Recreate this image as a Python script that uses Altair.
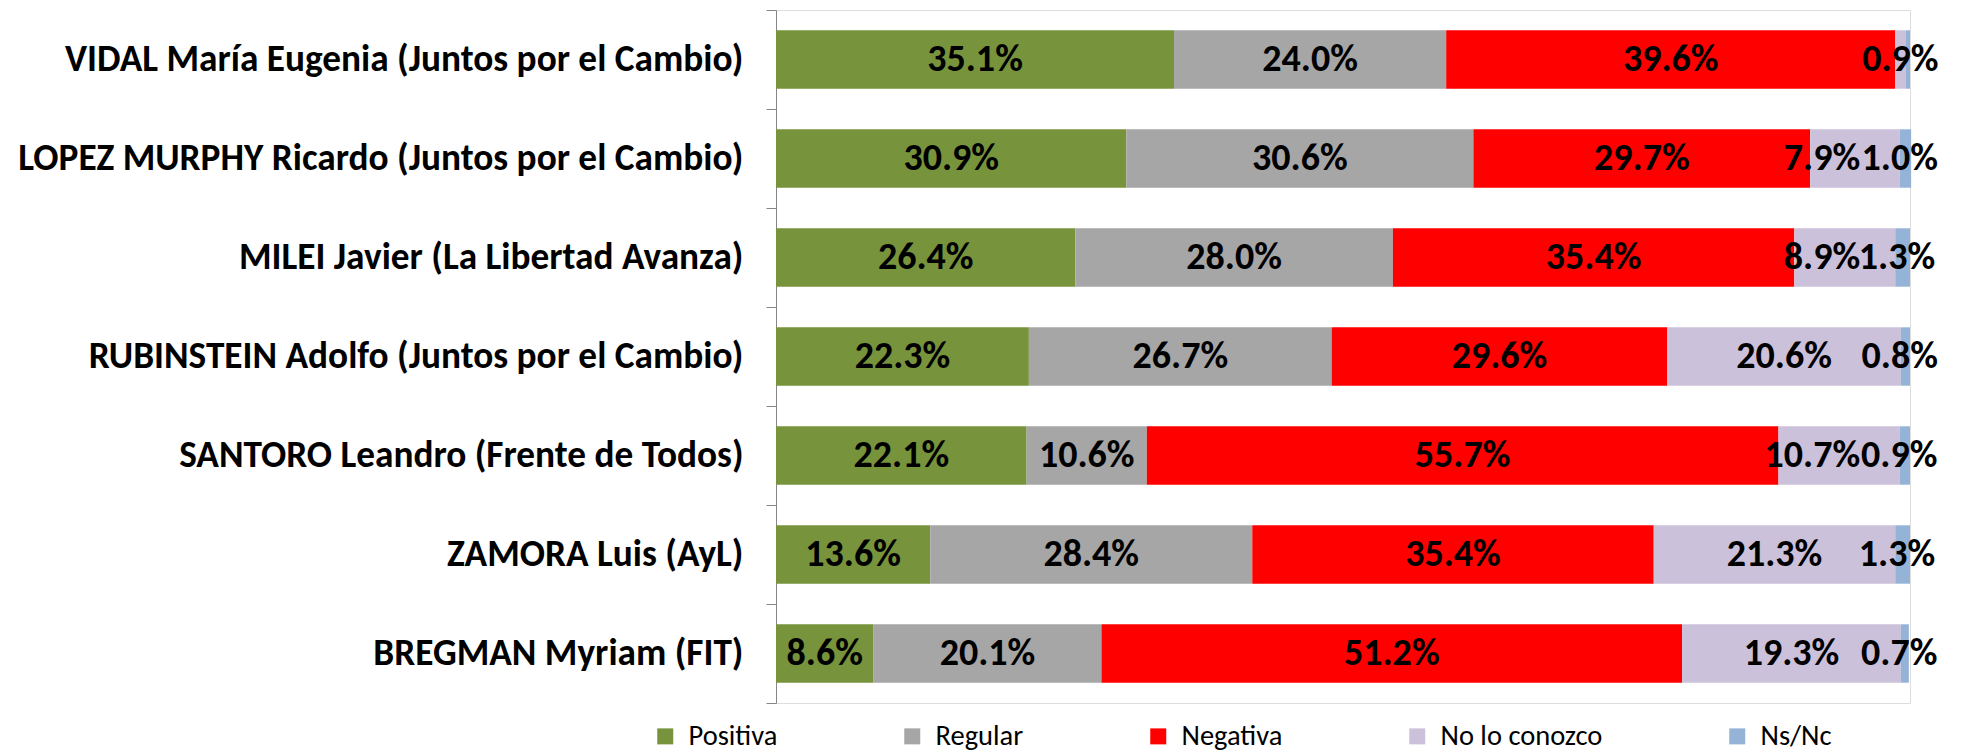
import altair as alt
import pandas as pd

candidates = [
    "VIDAL María Eugenia (Juntos por el Cambio)",
    "LOPEZ MURPHY Ricardo (Juntos por el Cambio)",
    "MILEI Javier (La Libertad Avanza)",
    "RUBINSTEIN Adolfo (Juntos por el Cambio)",
    "SANTORO Leandro (Frente de Todos)",
    "ZAMORA Luis (AyL)",
    "BREGMAN Myriam (FIT)",
]
series = ["Positiva", "Regular", "Negativa", "No lo conozco", "Ns/Nc"]
colors = ["#77933C", "#A6A6A6", "#FF0000", "#CCC1DA", "#95B3D7"]

positiva = [35.1, 30.9, 26.4, 22.3, 22.1, 13.6, 8.6]
regular = [24.0, 30.6, 28.0, 26.7, 10.6, 28.4, 20.1]
negativa = [39.6, 29.7, 35.4, 29.6, 55.7, 35.4, 51.2]
no_conozco = [0.9, 7.9, 8.9, 20.6, 10.7, 21.3, 19.3]
nsnc = [0.4, 1.0, 1.3, 0.8, 0.9, 1.3, 0.7]
nsnc_label_shown = [False, True, True, True, True, True, True]

FONT = "Carlito, 'Liberation Sans Narrow', 'DejaVu Sans Condensed', sans-serif"
LABEL_FS = 38
W, H = 1134, 693
PX_PER = W / 100.0

values = [positiva, regular, negativa, no_conozco, nsnc]
rows = []
for i, cand in enumerate(candidates):
    start = 0.0
    for j, s in enumerate(series):
        v = values[j][i]
        rows.append({"cand": cand, "serie": s, "order": j, "start": start,
                     "end": start + v, "mid": start + v / 2, "val": v,
                     "label": f"{v:.1f}%"})
        start += v
df = pd.DataFrame(rows)

# label placement: Ns/Nc label sits near bar end; No lo conozco label pushed left if it would collide
est_char = 0.5 * LABEL_FS / PX_PER
limit = 95.6
center_rows, right_rows = [], []
for i, cand in enumerate(candidates):
    sub = df[df.cand == cand]
    for _, r in sub.iterrows():
        if r.serie == "Ns/Nc":
            if nsnc_label_shown[i]:
                d = r.to_dict(); d["pos"] = r.mid - 0.5
                center_rows.append(d)
        elif r.serie == "No lo conozco" and nsnc_label_shown[i] and \
                r.mid + len(r.label) * est_char / 2 > limit:
            d = r.to_dict(); d["pos"] = limit
            right_rows.append(d)
        else:
            d = r.to_dict(); d["pos"] = r.mid
            center_rows.append(d)
lab_c = pd.DataFrame(center_rows)
lab_r = pd.DataFrame(right_rows)

yenc = alt.Y("cand:N", sort=candidates,
             scale=alt.Scale(paddingInner=0, paddingOuter=0),
             axis=alt.Axis(title=None, labelFont=FONT, labelFontSize=37.3,
                           labelFontWeight="bold", labelColor="#000000",
                           labelPadding=23, labelLimit=1000,
                           domainColor="#868686", tickColor="#868686",
                           tickSize=10, tickBand="extent"))

bars = alt.Chart(df).mark_bar(height={"band": 0.59}).encode(
    x=alt.X("start:Q", scale=alt.Scale(domain=[0, 100], nice=False, zero=True), axis=None),
    x2="end:Q",
    y=yenc,
    color=alt.Color("serie:N", sort=series,
                    scale=alt.Scale(domain=series, range=colors),
                    legend=alt.Legend(title=None, orient="none", direction="horizontal",
                                      legendX=-125, legendY=712, columns=5,
                                      symbolType="square", symbolSize=256,
                                      symbolStrokeWidth=0, labelFont=FONT,
                                      labelFontSize=28.5, labelColor="#000000",
                                      labelLimit=1000,
                                      columnPadding=120, labelOffset=9)),
    order=alt.Order("order:Q"),
)

text_c = alt.Chart(lab_c).mark_text(font=FONT, fontSize=LABEL_FS, fontWeight="bold",
                                    color="#000000", align="center", baseline="middle").encode(
    x=alt.X("pos:Q"), y=alt.Y("cand:N", sort=candidates), text="label:N")
text_r = alt.Chart(lab_r).mark_text(font=FONT, fontSize=LABEL_FS, fontWeight="bold",
                                    color="#000000", align="right", baseline="middle").encode(
    x=alt.X("pos:Q"), y=alt.Y("cand:N", sort=candidates), text="label:N")

chart = alt.layer(bars, text_c, text_r).properties(
    width=W, height=H,
    autosize=alt.AutoSizeParams(type="none"),
    padding={"left": 768, "top": 2, "right": 44, "bottom": 52},
).configure_view(stroke=None).configure(background="#ffffff")

chart.save("out.html", embed_options={"renderer": "svg", "actions": False})
